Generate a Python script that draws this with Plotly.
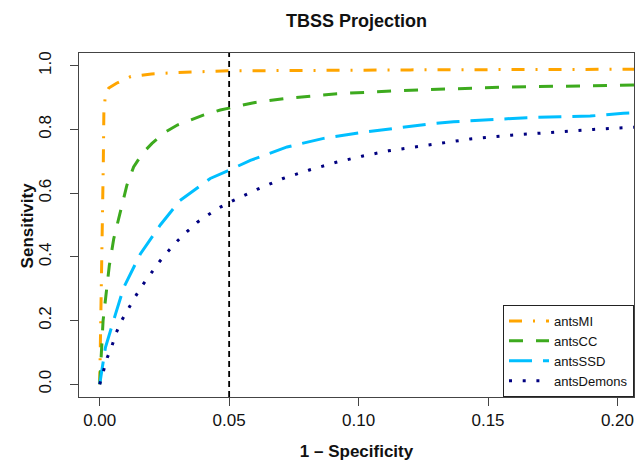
import plotly.graph_objects as go

# ---- data ----
mi_x = [0, 0.0003, 0.0007, 0.0011, 0.0014, 0.0016, 0.0022, 0.0035, 0.0065, 0.012, 0.02, 0.03, 0.05, 0.08, 0.12, 0.16, 0.2, 0.208]
mi_y = [0, 0.2, 0.4, 0.55, 0.7, 0.85, 0.91, 0.93, 0.945, 0.966, 0.974, 0.979, 0.984, 0.986, 0.987, 0.988, 0.989, 0.989]

cc_x = [0, 0.0005, 0.0013, 0.0026, 0.0037, 0.0054, 0.008, 0.0105, 0.0131, 0.0165, 0.0202, 0.025, 0.03, 0.04, 0.0466, 0.05, 0.0595, 0.0724, 0.0917, 0.1135, 0.129, 0.156, 0.1882, 0.208]
cc_y = [0, 0.083, 0.199, 0.293, 0.372, 0.456, 0.546, 0.625, 0.682, 0.725, 0.756, 0.79, 0.814, 0.845, 0.861, 0.867, 0.884, 0.898, 0.912, 0.921, 0.926, 0.933, 0.937, 0.94]

ssd_x = [0, 0.0022, 0.0061, 0.0093, 0.0157, 0.0234, 0.031, 0.0427, 0.05, 0.0582, 0.0724, 0.0865, 0.1007, 0.1135, 0.127, 0.1367, 0.1496, 0.165, 0.178, 0.1895, 0.2023, 0.208]
ssd_y = [0, 0.115, 0.22, 0.304, 0.409, 0.5, 0.577, 0.646, 0.672, 0.703, 0.745, 0.772, 0.79, 0.803, 0.817, 0.824, 0.83, 0.837, 0.84, 0.842, 0.851, 0.853]

dem_x = [0, 0.0015, 0.0029, 0.0048, 0.0064, 0.0086, 0.0112, 0.0138, 0.0166, 0.0198, 0.023, 0.0263, 0.0299, 0.0337, 0.0376, 0.0421, 0.0466, 0.0511, 0.0608, 0.0708, 0.0807, 0.091, 0.1013, 0.1116, 0.1223, 0.1274, 0.1431, 0.159, 0.1749, 0.1907, 0.2064, 0.208]
dem_y = [0, 0.041, 0.083, 0.122, 0.162, 0.202, 0.241, 0.276, 0.312, 0.349, 0.384, 0.416, 0.449, 0.479, 0.508, 0.533, 0.556, 0.575, 0.612, 0.646, 0.672, 0.696, 0.716, 0.733, 0.745, 0.751, 0.77, 0.782, 0.792, 0.8, 0.807, 0.808]

cutoff = 0.05
x_ticks = [0, 0.05, 0.10, 0.15, 0.20]
x_ticklabels = ["0.00", "0.05", "0.10", "0.15", "0.20"]
y_ticks = [0, 0.2, 0.4, 0.6, 0.8, 1.0]
y_ticklabels = ["0.0", "0.2", "0.4", "0.6", "0.8", "1.0"]

FONT = "Liberation Sans, Arial, Helvetica, sans-serif"

fig = go.Figure()
fig.add_trace(go.Scatter(x=mi_x, y=mi_y, mode="lines", name="antsMI",
                         line=dict(color="#FFA500", width=3, dash="13px,11px,2px,11px")))
fig.add_trace(go.Scatter(x=cc_x, y=cc_y, mode="lines", name="antsCC",
                         line=dict(color="#3DAA1E", width=3, dash="14px,13px")))
fig.add_trace(go.Scatter(x=ssd_x, y=ssd_y, mode="lines", name="antsSSD",
                         line=dict(color="#00BFFF", width=3, dash="23px,11px")))
fig.add_trace(go.Scatter(x=dem_x, y=dem_y, mode="lines", name="antsDemons",
                         line=dict(color="#000080", width=3, dash="3px,10.7px")))

fig.add_shape(type="line", xref="x", yref="paper", x0=cutoff, x1=cutoff, y0=0, y1=1,
              line=dict(color="black", width=1.8, dash="6px,4px"))

# y-axis title placed as an annotation (sits tight against the rotated tick labels)
fig.add_annotation(text="<b>Sensitivity</b>", textangle=-90, xref="paper", yref="paper",
                   x=-0.093, y=0.5, xanchor="center", yanchor="middle", showarrow=False,
                   font=dict(size=17, family=FONT, color="#111"))

fig.update_layout(
    width=635, height=461,
    margin=dict(l=79, r=1, t=53, b=64, autoexpand=False),
    paper_bgcolor="white", plot_bgcolor="white",
    font=dict(family=FONT, size=17, color="#111"),
    title=dict(text="<b>TBSS Projection</b>", x=0.5615, xanchor="center", y=0.955, yanchor="middle",
               font=dict(size=18, family=FONT, color="#111")),
    showlegend=True,
    legend=dict(x=1, xanchor="right", y=0, yanchor="bottom",
                bordercolor="#222", borderwidth=1, bgcolor="white",
                font=dict(size=13, family=FONT, color="#111"),
                tracegroupgap=0, itemwidth=40),
)
fig.update_xaxes(range=[-0.008, 0.2064], tickvals=x_ticks, ticktext=x_ticklabels,
                 automargin=False,
                 showgrid=False, zeroline=False, showline=True, mirror=True,
                 linecolor="#444", linewidth=1, ticks="outside", ticklen=8, tickcolor="#444",
                 tickfont=dict(size=17),
                 title=dict(text="<b>1 \u2013 Specificity</b>", standoff=20, font=dict(size=17)))
fig.update_yaxes(range=[-0.04, 1.04], tickvals=y_ticks, ticktext=y_ticklabels,
                 automargin=False, ticklabelstandoff=12,
                 showgrid=False, zeroline=False, showline=True, mirror=True,
                 linecolor="#444", linewidth=1, ticks="outside", ticklen=8, tickcolor="#444",
                 tickangle=-90, tickfont=dict(size=17))

fig.write_html("out.html", config={"displayModeBar": False},
               post_script="document.body.style.margin='0px';document.body.style.overflow='hidden';")
